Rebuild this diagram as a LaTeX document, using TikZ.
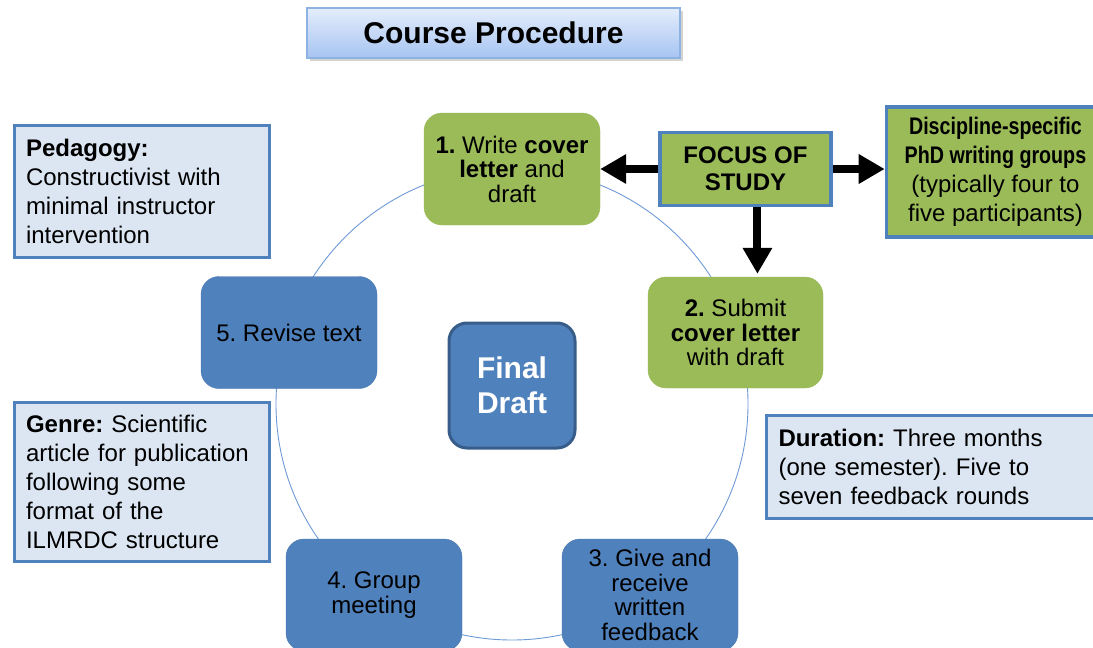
\documentclass[tikz,border=0pt]{standalone}
\usepackage{fontspec}
\setmainfont{Liberation Sans}
\newfontfamily\narrowfont[FakeStretch=0.82]{Liberation Sans}
\usepackage{xcolor}
\usetikzlibrary{arrows.meta, positioning, shadows}
\frenchspacing

\definecolor{stepgreen}{HTML}{9BBB59}
\definecolor{stepblue}{HTML}{4F81BD}
\definecolor{darkblue}{HTML}{385D8A}
\definecolor{infofill}{HTML}{DCE6F2}
\definecolor{ringblue}{HTML}{6F9AD6}
\definecolor{titletop}{HTML}{E4EDFB}
\definecolor{titlebottom}{HTML}{A7C4F2}
\definecolor{titleedge}{HTML}{8DB3E2}

\begin{document}
\begin{tikzpicture}[x=1pt, y=-1pt,
    stepbox/.style={rectangle, rounded corners=18pt, minimum width=176pt, minimum height=112pt, inner sep=2pt, align=center, font=\fontsize{24}{24.5}\selectfont},
    greenstep/.style={stepbox, fill=stepgreen, draw=stepgreen},
    bluestep/.style={stepbox, fill=stepblue, draw=stepblue!92!black},
    infobox/.style={rectangle, draw=stepblue, line width=3pt, fill=infofill, align=left, inner xsep=12pt, inner ysep=4pt, font=\fontsize{24}{29}\selectfont},
    bigarrow/.style={line width=8pt, -{Triangle[length=26pt, width=28pt]}},
]
    \useasboundingbox (0,0) rectangle (1093,648);
    \clip (0,0) rectangle (1093,648);

    % cycle ring behind the steps
    \coordinate (hub) at (512,404);
    \draw[ringblue, line width=0.9pt] (hub) circle[radius=236];

    \node[rectangle, draw=titleedge, line width=1.5pt, top color=titletop, bottom color=titlebottom, drop shadow={opacity=0.35}, minimum width=373pt, minimum height=50pt, font=\fontsize{30}{30}\selectfont\bfseries] (title) at (493.5,33) {Course Procedure};

    \node[greenstep] (write) at (512,169) {\textbf{1.} Write \textbf{cover}\\ \textbf{letter} and\\ draft};
    \node[greenstep, minimum width=175pt, minimum height=111pt] (submit) at (735.5,332.5) {\textbf{2.} Submit\\ \textbf{cover letter}\\ with draft};
    \node[bluestep] (feedback) at (650,595) {3. Give and\\ receive\\ written\\ feedback};
    \node[bluestep] (meeting) at (374,595) {4. Group\\ meeting};
    \node[bluestep] (revise) at (289,332.5) {5. Revise text};

    \node[rectangle, rounded corners=18pt, fill=stepblue, draw=darkblue, line width=3pt, minimum width=126pt, minimum height=125pt, align=center, text=white, font=\fontsize{30}{35}\selectfont\bfseries] (final) at (512,385.5) {Final\\ Draft};

    \node[rectangle, fill=stepgreen, draw=stepblue, line width=3.5pt, minimum width=171pt, minimum height=73pt, align=center, font=\fontsize{24}{27}\selectfont\bfseries, right=58pt of write] (focus) {FOCUS OF\\ STUDY};
    \node[rectangle, fill=stepgreen, draw=stepblue, line width=3.5pt, minimum width=218pt, minimum height=130pt, align=center, font=\fontsize{24}{29}\selectfont, right=52pt of focus, yshift=-3pt] (groups) {{\narrowfont\bfseries Discipline-specific}\\ {\narrowfont\bfseries PhD writing groups}\\ (typically four to\\ five participants)};

    \node[infobox, text width=231pt, minimum height=132pt] (pedagogy) at (141.5,191) {\textbf{Pedagogy:}\\ Constructivist with\\ minimal instructor\\ intervention};
    \node[infobox, text width=231pt, minimum height=159pt] (genre) at (141.5,481.5) {\textbf{Genre:} Scientific\\ article for publication\\ following some\\ format of the\\ ILMRDC structure};
    \node[infobox, text width=320pt, minimum height=103pt, anchor=west] (duration) at (765,466.5) {\textbf{Duration:} Three months\\ (one semester). Five to\\ seven feedback rounds};

    \draw[bigarrow] (focus.west) -- (focus.west -| write.east);
    \draw[bigarrow] (focus.east) -- (focus.east -| groups.west);
    \draw[bigarrow, shorten >=3pt] ([xshift=12pt]focus.south) -- ([xshift=12pt]focus.south |- submit.north);
\end{tikzpicture}
\end{document}
